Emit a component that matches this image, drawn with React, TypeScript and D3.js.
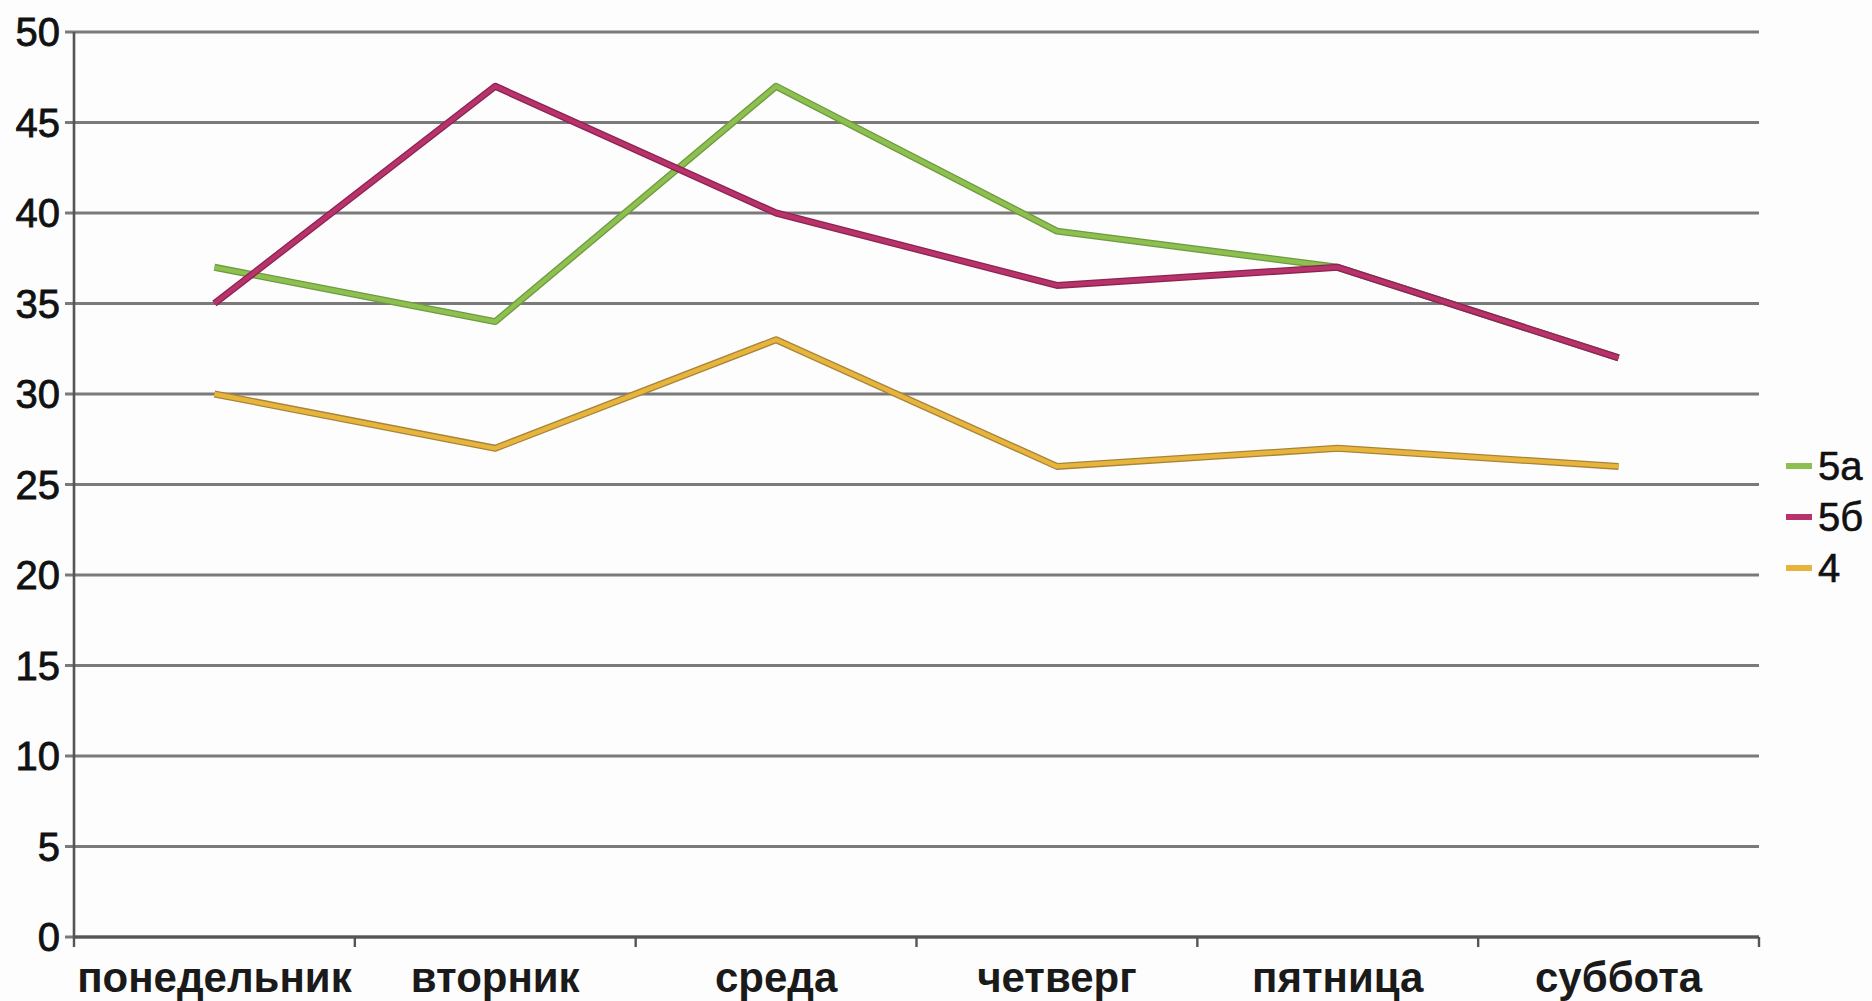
import * as d3 from "d3";

const days = ["понедельник", "вторник", "среда", "четверг", "пятница", "суббота"];
const class5a = [37, 34, 47, 39, 37, 32];
const class5b = [35, 47, 40, 36, 37, 32];
const class4 = [30, 27, 33, 26, 27, 26];
const yTicks = [0, 5, 10, 15, 20, 25, 30, 35, 40, 45, 50];

const series = [
  { name: "5а", values: class5a, color: "#8dc050", edge: "#6f9a3e" },
  { name: "5б", values: class5b, color: "#b8336b", edge: "#8c2450" },
  { name: "4", values: class4, color: "#e8b53c", edge: "#a8843a" },
];

export default function App() {
  const width = 1872;
  const height = 1001;
  const left = 74;
  const right = 1759;
  const top = 32;
  const bottom = 937;

  const x = d3.scaleBand<string>().domain(days).range([left, right]);
  const y = d3.scaleLinear().domain([0, 50]).range([bottom, top]);
  const line = d3
    .line<number>()
    .x((_, i) => (x(days[i]) ?? 0) + x.bandwidth() / 2)
    .y(d => y(d));

  const font = "'Liberation Sans', Arial, sans-serif";

  return (
    <svg
      width={width}
      height={height}
      style={{ position: "absolute", left: 0, top: 0, background: "#fdfdfd" }}
    >
      {yTicks.map(t => (
        <g key={t}>
          <line x1={left - 9} x2={right} y1={y(t)} y2={y(t)} stroke="#7a7a7a" strokeWidth={2.8} />
          <text
            x={left - 14}
            y={y(t)}
            dy="0.36em"
            textAnchor="end"
            fontFamily={font}
            fontSize={40}
            fill="#111"
            stroke="#111"
            strokeWidth={0.8}
          >
            {t}
          </text>
        </g>
      ))}
      <line x1={left} x2={left} y1={top} y2={bottom} stroke="#555" strokeWidth={2.6} />
      <line x1={left} x2={right} y1={bottom} y2={bottom} stroke="#555" strokeWidth={2.8} />
      {[...days.map(d => x(d) ?? 0), right].map((v, i) => (
        <line key={i} x1={v} x2={v} y1={bottom} y2={bottom + 10} stroke="#555" strokeWidth={2.4} />
      ))}
      {days.map(d => (
        <text
          key={d}
          x={(x(d) ?? 0) + x.bandwidth() / 2}
          y={977}
          dy="0.36em"
          textAnchor="middle"
          fontFamily={font}
          fontWeight="bold"
          fontSize={42}
          fill="#1a1a1a"
        >
          {d}
        </text>
      ))}
      {series.map(s => (
        <g key={s.name}>
          <path d={line(s.values) ?? undefined} fill="none" stroke={s.edge} strokeWidth={7} strokeLinejoin="round" />
          <path d={line(s.values) ?? undefined} fill="none" stroke={s.color} strokeWidth={4.4} strokeLinejoin="round" />
        </g>
      ))}
      {series.map((s, i) => (
        <g key={s.name} transform={`translate(1786, ${466 + i * 51})`}>
          <line x1={0} x2={26} y1={0} y2={0} stroke={s.color} strokeWidth={6} />
          <text x={32} y={0} dy="0.36em" fontFamily={font} fontSize={40} fill="#111" stroke="#111" strokeWidth={0.6}>
            {s.name}
          </text>
        </g>
      ))}
    </svg>
  );
}
